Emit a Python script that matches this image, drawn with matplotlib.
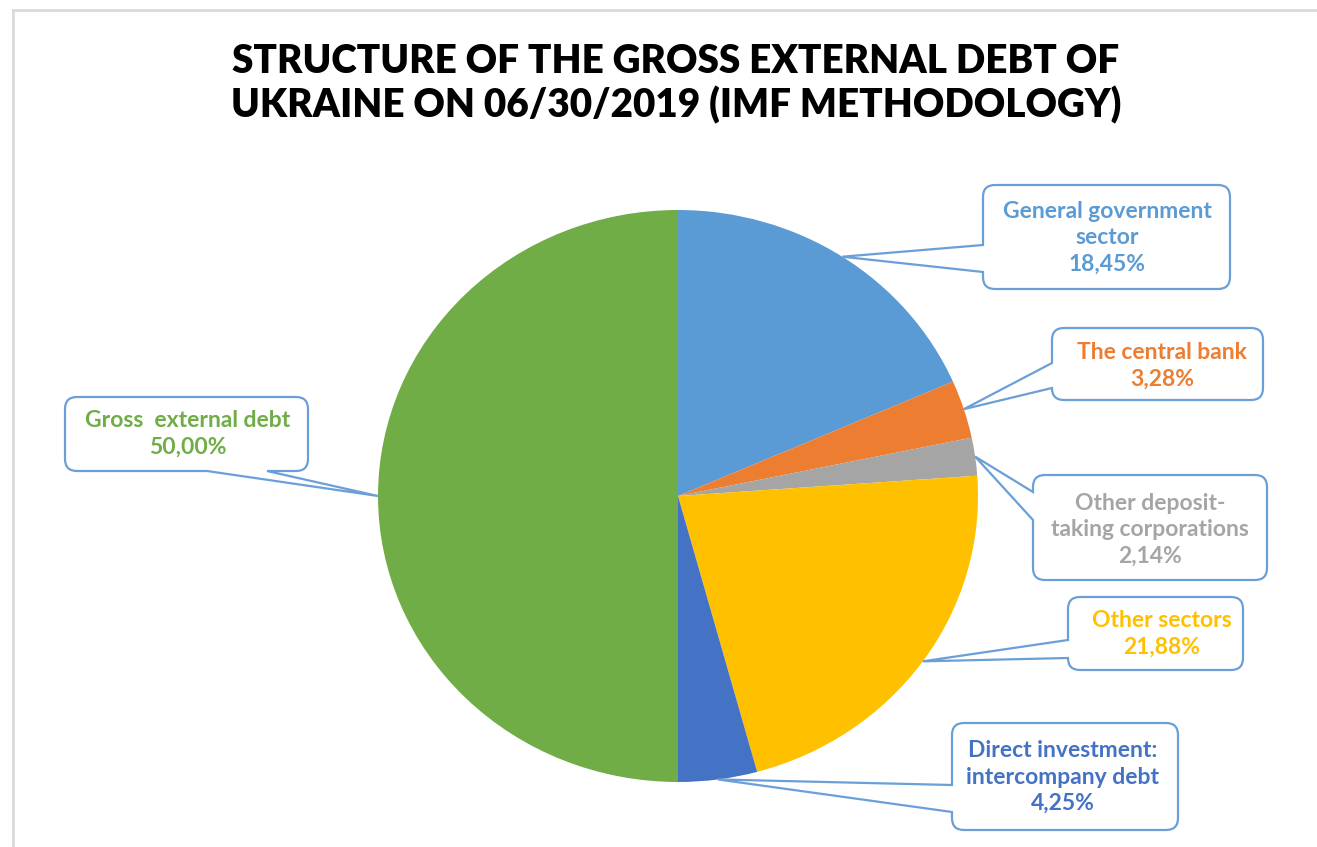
import matplotlib
matplotlib.use("Agg")
import matplotlib.pyplot as plt
from matplotlib.path import Path
from matplotlib.patches import PathPatch
import numpy as np

# ---------------- data ----------------
categories = ["General government\nsector", "The central bank", "Other deposit-\ntaking corporations",
              "Other sectors", "Direct investment:\nintercompany debt", "Gross  external debt"]
values = [18.45, 3.28, 2.14, 21.88, 4.25, 50.00]
value_labels = ["18,45%", "3,28%", "2,14%", "21,88%", "4,25%", "50,00%"]
colors = ["#5B9BD5", "#ED7D31", "#A5A5A5", "#FFC000", "#4472C4", "#70AD47"]
title = "STRUCTURE OF THE GROSS EXTERNAL DEBT OF\nUKRAINE ON 06/30/2019 (IMF METHODOLOGY)"

# ---------------- layout (pixels) ----------------
W, H = 1317, 847
FONT = "Lato"
BORDER = "#6A9FD8"
# callout boxes: (left, top, right, bottom), pointer side, pointer base (two coords along side)
boxes = [
    ((983, 185, 1230, 289), "left", (245, 272)),
    ((1052, 328, 1263, 400), "left", (363, 388)),
    ((1033, 475, 1267, 580), "left", (492, 520)),
    ((1068, 597, 1243, 670), "left", (640, 658)),
    ((952, 723, 1178, 830), "left", (785, 812)),
    ((65, 397, 308, 471), "bottom", (267, 207)),
]
text_centers = [(1107, 238), (1162, 366), (1150, 530), (1162, 634), (1063, 777), (188, 434)]

fig = plt.figure(figsize=(W / 100, H / 100), dpi=100)
fig.patch.set_facecolor("white")

# pie axes (slightly elliptical as in reference)
cx, cy, rx, ry = 678, 496, 300, 286
ax_p = fig.add_axes([(cx - rx) / W, (H - cy - ry) / H, 2 * rx / W, 2 * ry / H])
ax_p.pie(values, colors=colors, startangle=90, counterclock=False,
         wedgeprops=dict(linewidth=0), radius=1.0)
ax_p.set_aspect("auto")
ax_p.set_xlim(-1, 1)
ax_p.set_ylim(-1, 1)
ax_p.axis("off")

# overlay axes in pixel coordinates
ax_o = fig.add_axes([0, 0, 1, 1], zorder=5)
ax_o.set_xlim(0, W)
ax_o.set_ylim(H, 0)
ax_o.axis("off")
ax_o.patch.set_alpha(0)

# light frame like the screenshot
ax_o.plot([13, 13], [10, H], color="#DADADA", lw=2)
ax_o.plot([13, W], [10, 10], color="#DADADA", lw=2)

fig.text(676 / W, 1 - 84 / H, title, ha="center", va="center", fontsize=27.8,
         fontweight="heavy", family=FONT, color="black", linespacing=1.2)

# tips at the middle of each wedge on the pie edge
cum = np.cumsum([0] + values[:-1])
total = sum(values)
mid_angles = np.deg2rad(90 - (cum + np.array(values) / 2) / total * 360)


def to_overlay(x, y):
    disp = ax_p.transData.transform((x, y))
    return ax_o.transData.inverted().transform(disp)


def bubble(box, side, base, tip, r=12):
    L, T, R, B = box
    verts, codes = [], []

    def mv(p):
        verts.append(p); codes.append(Path.MOVETO)

    def ln(p):
        verts.append(p); codes.append(Path.LINETO)

    def cv(c, p):
        verts.extend([c, p]); codes.extend([Path.CURVE3, Path.CURVE3])

    mv((L + r, T))
    ln((R - r, T)); cv((R, T), (R, T + r))
    ln((R, B - r)); cv((R, B), (R - r, B))
    if side == "bottom":
        ln((base[0], B)); ln(tip); ln((base[1], B))
    ln((L + r, B)); cv((L, B), (L, B - r))
    if side == "left":
        ln((L, base[1])); ln(tip); ln((L, base[0]))
    ln((L, T + r)); cv((L, T), (L + r, T))
    codes.append(Path.CLOSEPOLY); verts.append((L + r, T))
    return Path(verts, codes)


for i in range(len(values)):
    a = mid_angles[i]
    tip = tuple(to_overlay(np.cos(a), np.sin(a)))
    box, side, base = boxes[i]
    p = bubble(box, side, base, tip)
    ax_o.add_patch(PathPatch(p, facecolor="white", edgecolor=BORDER, lw=1.6, zorder=3))
    tx, ty = text_centers[i]
    ax_o.text(tx, ty, categories[i] + "\n" + value_labels[i], ha="center", va="center",
              fontsize=16.5, fontweight="bold", family=FONT, color=colors[i],
              linespacing=1.3, zorder=4)

fig.savefig("out.png", dpi=100, facecolor="white")
